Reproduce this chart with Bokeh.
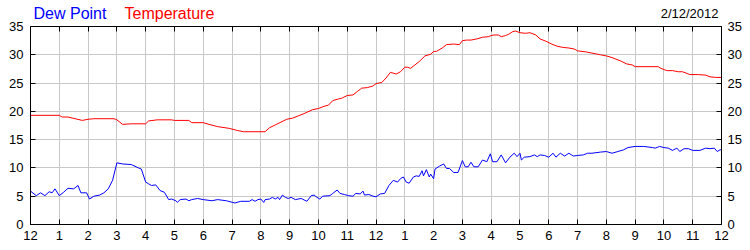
from bokeh.plotting import figure
from bokeh.models import Range1d, LinearAxis, FixedTicker
from bokeh.layouts import column
from bokeh.core.properties import value
from bokeh.embed import file_html
from bokeh.resources import INLINE

# ---- data ----
hour_ticks = list(range(25))
hour_labels = ["12", "1", "2", "3", "4", "5", "6", "7", "8", "9", "10", "11",
               "12", "1", "2", "3", "4", "5", "6", "7", "8", "9", "10", "11", "12"]
value_ticks = [0, 5, 10, 15, 20, 25, 30, 35]
series_names = ["Dew Point", "Temperature"]
date_text = "2/12/2012"

temp_hours = [0, 1.0, 1.1, 1.3, 1.55, 1.8, 2.0, 2.2, 2.9, 3.0, 3.2, 3.5, 4.0, 4.1, 4.4, 4.9,
              5.0, 5.5, 5.6, 6.0, 6.2, 6.5, 6.9, 7.2, 7.4, 8.15, 8.3, 8.5, 8.7, 8.9, 9.1, 9.3,
              9.5, 9.8, 10.0, 10.2, 10.35, 10.5, 10.7, 10.8, 11.0, 11.2, 11.35, 11.5, 11.7,
              11.9, 12.0, 12.2, 12.35, 12.5, 12.7, 12.85, 13.0, 13.1, 13.2, 13.35, 13.5, 13.7,
              13.9, 14.0, 14.1, 14.3, 14.45, 14.7, 14.9, 15.0, 15.15, 15.3, 15.5, 15.7, 15.9,
              16.0, 16.1, 16.25, 16.35, 16.5, 16.6, 16.75, 16.85, 17.0, 17.2, 17.35, 17.55,
              17.7, 17.9, 18.1, 18.3, 18.5, 18.7, 18.9, 19.0, 19.3, 19.5, 19.8, 20.0, 20.2,
              20.5, 20.7, 20.9, 21.0, 21.8, 21.9, 22.1, 22.3, 22.5, 22.65, 22.8, 22.9, 23.2,
              23.45, 23.6, 23.8, 24.0]
temp_vals = [19.3, 19.3, 19.0, 19.0, 18.7, 18.4, 18.6, 18.7, 18.7, 18.5, 17.7, 17.8, 17.8,
             18.3, 18.5, 18.5, 18.4, 18.4, 18.0, 18.0, 17.7, 17.3, 17.0, 16.6, 16.4, 16.4,
             17.1, 17.6, 18.1, 18.6, 18.8, 19.2, 19.6, 20.3, 20.5, 20.9, 21.1, 21.9, 22.2,
             22.3, 22.8, 22.9, 23.5, 24.1, 24.2, 24.5, 24.9, 25.1, 25.9, 26.9, 26.6, 27.0,
             27.8, 27.8, 27.6, 28.2, 28.8, 29.8, 30.1, 30.6, 30.6, 31.2, 31.8, 31.9, 31.8,
             32.5, 32.6, 32.6, 32.8, 33.1, 33.2, 33.4, 33.5, 33.5, 33.2, 33.4, 33.6, 34.1,
             34.2, 33.9, 33.8, 33.9, 33.5, 32.8, 32.4, 31.9, 31.5, 31.3, 31.2, 31.0, 30.7,
             30.5, 30.3, 30.0, 29.8, 29.5, 28.9, 28.4, 28.2, 27.9, 27.9, 27.6, 27.2, 27.2,
             27.0, 27.0, 26.7, 26.5, 26.5, 26.4, 26.1, 26.0, 26.0]

dew_hours = [0, 0.2, 0.35, 0.5, 0.65, 0.75, 0.85, 1.0, 1.15, 1.3, 1.5, 1.65, 1.75, 1.95,
             2.05, 2.2, 2.4, 2.55, 2.7, 2.85, 3.0, 3.2, 3.5, 3.75, 3.85, 4.0, 4.1, 4.2, 4.35,
             4.5, 4.65, 4.8, 4.9, 5.05, 5.1, 5.2, 5.4, 5.5, 5.6, 5.8, 6.0, 6.3, 6.5, 6.8,
             7.1, 7.3, 7.6, 7.7, 7.8, 7.9, 8.0, 8.1, 8.15, 8.3, 8.4, 8.5, 8.6, 8.65, 8.75,
             8.85, 8.95, 9.05, 9.2, 9.4, 9.6, 9.75, 9.85, 9.95, 10.05, 10.15, 10.4, 10.5,
             10.65, 10.75, 10.9, 11.05, 11.2, 11.3, 11.45, 11.55, 11.6, 11.75, 11.9, 12.0,
             12.15, 12.3, 12.45, 12.6, 12.75, 12.85, 12.95, 13.05, 13.15, 13.3, 13.4, 13.5,
             13.6, 13.65, 13.75, 13.85, 13.9, 14.0, 14.05, 14.2, 14.35, 14.45, 14.55, 14.7,
             14.85, 15.0, 15.1, 15.2, 15.3, 15.4, 15.55, 15.7, 15.85, 15.97, 16.05, 16.2,
             16.35, 16.5, 16.65, 16.8, 16.9, 17.0, 17.05, 17.15, 17.35, 17.5, 17.6, 17.7,
             17.85, 18.0, 18.15, 18.25, 18.4, 18.55, 18.7, 18.85, 19.0, 19.2, 19.35, 19.5,
             19.8, 20.0, 20.2, 20.4, 20.6, 20.75, 21.0, 21.3, 21.6, 21.7, 21.85, 22.0, 22.15,
             22.3, 22.45, 22.55, 22.7, 22.85, 23.0, 23.25, 23.45, 23.6, 23.75, 23.85, 23.95,
             24.0]
dew_vals = [5.9, 5.1, 5.6, 5.1, 5.8, 5.6, 6.3, 5.1, 5.7, 6.4, 6.3, 6.9, 5.6, 5.6,
            4.5, 5.0, 5.2, 5.6, 6.3, 7.8, 10.9, 10.7, 10.6, 10.0, 9.8, 7.5, 7.2, 6.9, 7.0,
            6.0, 5.7, 4.4, 4.5, 4.2, 3.9, 4.4, 4.5, 4.2, 4.4, 4.6, 4.4, 4.2, 4.4, 4.2,
            3.8, 4.1, 4.1, 4.4, 4.1, 4.4, 4.5, 3.9, 4.4, 4.5, 4.8, 4.5, 4.8, 4.4, 5.2,
            4.8, 4.6, 4.8, 4.4, 4.6, 4.1, 5.1, 5.2, 4.8, 4.5, 5.0, 5.1, 5.5,
            6.1, 5.5, 5.3, 5.1, 5.0, 5.5, 5.4, 5.9, 5.2, 5.3, 5.0, 4.9,
            5.4, 5.5, 6.9, 7.8, 7.5, 8.1, 8.4, 7.5, 7.3, 8.4, 8.6, 8.5,
            9.5, 8.6, 9.7, 8.4, 8.9, 8.1, 9.8, 10.3, 10.7, 9.9, 9.9, 9.2,
            9.2, 11.3, 10.2, 10.2, 11.0, 10.2, 10.2, 11.4, 11.1, 12.5, 11.1, 11.1,
            12.3, 10.9, 11.9, 12.6, 12.0, 12.6, 11.4, 11.9, 12.0, 12.3, 12.0, 12.3,
            12.2, 11.9, 12.6, 11.9, 12.6, 12.1, 12.6, 12.1, 12.2, 12.3, 12.6, 12.6,
            12.8, 12.9, 12.6, 12.9, 13.2, 13.6, 13.8, 13.8, 13.6, 13.5, 13.8, 13.6, 13.5,
            13.1, 13.5, 12.9, 13.4, 13.4, 13.1, 13.1, 13.5, 13.4, 13.5, 12.9, 13.2,
            13.2]

FONT = "Liberation Sans"
GRID = "#c8c8c8"
LEFT, RIGHT = 30, 29

# ---- main chart ----
p = figure(width=750, height=250, output_backend="svg", toolbar_location=None,
           x_range=Range1d(0, 24), y_range=Range1d(0, 35),
           min_border_left=LEFT, min_border_right=RIGHT, min_border_top=26, min_border_bottom=26)
p.background_fill_color = "white"
p.border_fill_color = "white"
p.outline_line_color = "black"
p.outline_line_width = 1

p.line(dew_hours, dew_vals, line_color="#0000ff", line_width=1)
p.line(temp_hours, temp_vals, line_color="#ff0000", line_width=1)

p.xgrid.ticker = FixedTicker(ticks=hour_ticks)
p.ygrid.ticker = FixedTicker(ticks=value_ticks)
for g in (p.xgrid, p.ygrid):
    g.grid_line_color = GRID
    g.grid_line_width = 1


def style(ax, ticks, labels=None):
    ax.ticker = FixedTicker(ticks=ticks)
    ax.major_tick_in = 5
    ax.major_tick_out = 0
    ax.minor_tick_line_color = None
    ax.axis_line_color = "black"
    ax.major_tick_line_color = "black"
    ax.major_label_text_font = FONT
    ax.major_label_text_font_size = "13px"
    ax.major_label_text_color = "black"
    if labels is not None:
        ax.major_label_overrides = {t: l for t, l in zip(ticks, labels)}


style(p.xaxis[0], hour_ticks, hour_labels)
p.xaxis[0].major_label_standoff = 6
style(p.yaxis[0], value_ticks)
p.yaxis[0].major_label_standoff = 7

right = LinearAxis()
style(right, value_ticks)
right.major_label_standoff = 6
p.add_layout(right, "right")

top = LinearAxis()
style(top, hour_ticks, [""] * len(hour_ticks))
top.major_label_text_font_size = "0px"
top.major_label_standoff = 0
p.add_layout(top, "above")

# ---- header strip overlaid on the top margin of the chart ----
head = figure(width=750, height=25, output_backend="svg", toolbar_location=None,
              x_range=Range1d(0, 750 - LEFT - RIGHT), y_range=Range1d(25, 0),
              min_border_left=LEFT, min_border_right=RIGHT,
              min_border_top=0, min_border_bottom=0,
              styles={"position": "absolute", "top": "0px", "left": "0px", "z-index": "10"})
head.axis.visible = False
head.grid.visible = False
head.outline_line_color = None
head.background_fill_color = None
head.border_fill_color = None
head.text(x=[33 - LEFT], y=[12.5], text=[series_names[0]], text_font=value(FONT),
          text_font_size="16px", text_color="#0000ff", text_baseline="middle", text_align="left")
head.text(x=[124 - LEFT], y=[12.5], text=[series_names[1]], text_font=value(FONT),
          text_font_size="16px", text_color="#ff0000", text_baseline="middle", text_align="left")
head.text(x=[718 - LEFT], y=[12.5], text=[date_text], text_font=value(FONT),
          text_font_size="13px", text_color="black", text_baseline="middle", text_align="right")

layout = column(head, p, spacing=0)
open("out.html", "w").write(file_html(layout, INLINE))
